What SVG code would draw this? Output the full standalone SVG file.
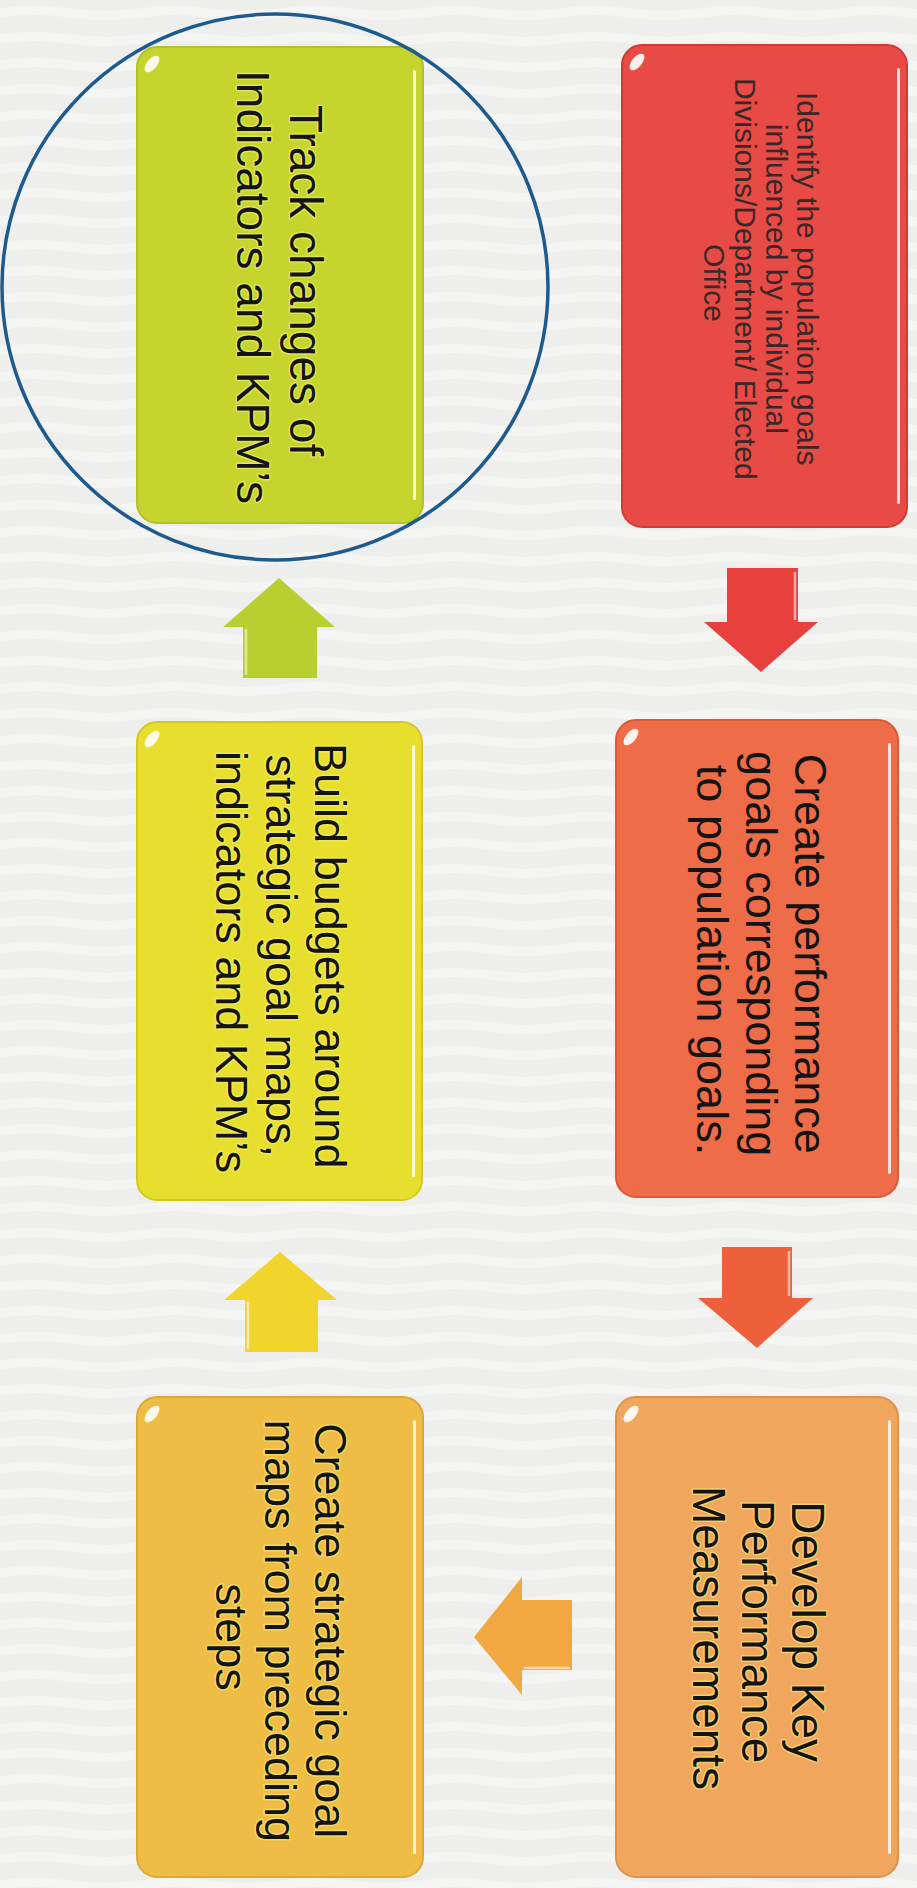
<svg xmlns="http://www.w3.org/2000/svg" width="917" height="1888" viewBox="0 0 917 1888">
  <defs>
    <style>
      .lbl { font-family: "Liberation Sans", Arial, sans-serif; text-anchor: middle; fill: #141414; }
      .glow { stroke: #f6f27a; stroke-width: 3; stroke-opacity: 0.55; paint-order: stroke; stroke-linejoin: round; }
      .big { font-size: 45px; }
      .small { font-size: 30px; fill: #3a2828; }
      .edge { fill: #ffffff; opacity: 0.8; }
      .glint { fill: #ffffff; opacity: 0.9; }
      .shine { fill: none; stroke: #ffffff; stroke-width: 2.5; opacity: 0.55; }
    </style>
    <pattern id="waves" width="140" height="26" patternUnits="userSpaceOnUse">
      <rect width="140" height="26" fill="#eeeeec"/>
      <path d="M0 13 Q35 8 70 13 T140 13" fill="none" stroke="#f8f8f7" stroke-width="9" opacity="0.7"/>
    </pattern>
  </defs>

  <!-- paper background -->
  <rect width="917" height="1888" fill="url(#waves)"/>

  <!-- step 1 -->
  <g id="node-identify">
    <rect x="622" y="45" width="285" height="482" rx="20" fill="#e84a45" stroke="#cf3b37" stroke-width="2"/>
    <rect class="edge" x="897" y="68" width="3" height="436" rx="1.5"/>
    <ellipse class="glint" cx="637" cy="62" rx="10" ry="5" transform="rotate(-50 637 62)"/>
    <text class="lbl small" transform="rotate(90)">
      <tspan x="283" y="-797">Identify the population goals</tspan>
      <tspan x="283" y="-766">influenced by individual</tspan>
      <tspan x="283" y="-735">Divisions/Department/ Elected</tspan>
      <tspan x="283" y="-704">Office</tspan>
    </text>
  </g>

  <!-- step 2 -->
  <g id="node-create-performance">
    <rect x="616" y="720" width="282" height="477" rx="20" fill="#ee6c47" stroke="#d85a38" stroke-width="2"/>
    <rect class="edge" x="888" y="743" width="3" height="431" rx="1.5"/>
    <ellipse class="glint" cx="631" cy="737" rx="10" ry="5" transform="rotate(-50 631 737)"/>
    <text class="lbl big" transform="rotate(90)">
      <tspan x="960" y="-795">Create performance</tspan>
      <tspan x="960" y="-746">goals corresponding</tspan>
      <tspan x="960" y="-697">to population goals.</tspan>
    </text>
  </g>

  <!-- step 3 -->
  <g id="node-develop-kpm">
    <rect x="616" y="1397" width="282" height="480" rx="20" fill="#f0a65c" stroke="#de924a" stroke-width="2"/>
    <rect class="edge" x="888" y="1420" width="3" height="434" rx="1.5"/>
    <ellipse class="glint" cx="631" cy="1414" rx="10" ry="5" transform="rotate(-50 631 1414)"/>
    <text class="lbl big glow" transform="rotate(90)" style="font-size:46px">
      <tspan x="1638" y="-792">Develop Key</tspan>
      <tspan x="1638" y="-742">Performance</tspan>
      <tspan x="1638" y="-693">Measurements</tspan>
    </text>
  </g>

  <!-- step 4 -->
  <g id="node-strategic-maps">
    <rect x="137" y="1397" width="286" height="480" rx="20" fill="#efbc45" stroke="#dca837" stroke-width="2"/>
    <rect class="edge" x="413" y="1420" width="3" height="434" rx="1.5"/>
    <ellipse class="glint" cx="152" cy="1414" rx="10" ry="5" transform="rotate(-50 152 1414)"/>
    <text class="lbl big glow" transform="rotate(90)">
      <tspan x="1637" y="-315">Create strategic goal</tspan>
      <tspan x="1637" y="-265">maps from preceding</tspan>
      <tspan x="1637" y="-216">steps</tspan>
    </text>
  </g>

  <!-- step 5 -->
  <g id="node-budgets">
    <rect x="137" y="722" width="285" height="478" rx="20" fill="#e7de2e" stroke="#d2c823" stroke-width="2"/>
    <rect class="edge" x="412" y="745" width="3" height="432" rx="1.5"/>
    <ellipse class="glint" cx="152" cy="739" rx="10" ry="5" transform="rotate(-50 152 739)"/>
    <text class="lbl big glow" transform="rotate(90)">
      <tspan x="962" y="-315">Build budgets around</tspan>
      <tspan x="962" y="-266">strategic goal maps,</tspan>
      <tspan x="962" y="-216">indicators and KPM’s</tspan>
    </text>
  </g>

  <!-- step 6 -->
  <g id="node-track">
    <rect x="137" y="47" width="286" height="476" rx="20" fill="#c6d52e" stroke="#b3c224" stroke-width="2"/>
    <rect class="edge" x="413" y="70" width="3" height="430" rx="1.5"/>
    <ellipse class="glint" cx="152" cy="64" rx="10" ry="5" transform="rotate(-50 152 64)"/>
    <text class="lbl big glow" transform="rotate(90)" style="font-size:46px">
      <tspan x="287" y="-290">Track changes of</tspan>
      <tspan x="287" y="-237">Indicators and KPM’s</tspan>
    </text>
  </g>

  <!-- emphasis ring around the last step -->
  <g id="highlight-ring">
    <circle cx="275" cy="287" r="273" fill="none" stroke="#1d5a8e" stroke-width="3.5"/>
  </g>

  <!-- flow arrows -->
  <g id="connectors">
    <polygon points="727,568 798,568 798,622 818,622 761,672 704,622 727,622" fill="#e8413d"/>
    <line class="shine" x1="795" y1="572" x2="795" y2="620"/>
    <polygon points="722,1247 792,1247 792,1298 813,1298 757,1348 698,1298 722,1298" fill="#ee603c"/>
    <line class="shine" x1="789" y1="1251" x2="789" y2="1296"/>
    <polygon points="474,1637 522,1577 522,1600 572,1600 572,1670 522,1670 522,1695" fill="#f1a843"/>
    <line class="shine" x1="524" y1="1668" x2="570" y2="1668"/>
    <polygon points="280,1252 337,1300 318,1300 318,1352 245,1352 245,1300 224,1300" fill="#f1d42c"/>
    <line class="shine" x1="248" y1="1302" x2="248" y2="1349"/>
    <polygon points="279,578 335,627 317,627 317,678 243,678 243,627 223,627" fill="#b9cf2f"/>
    <line class="shine" x1="246" y1="629" x2="246" y2="675"/>
  </g>
</svg>
